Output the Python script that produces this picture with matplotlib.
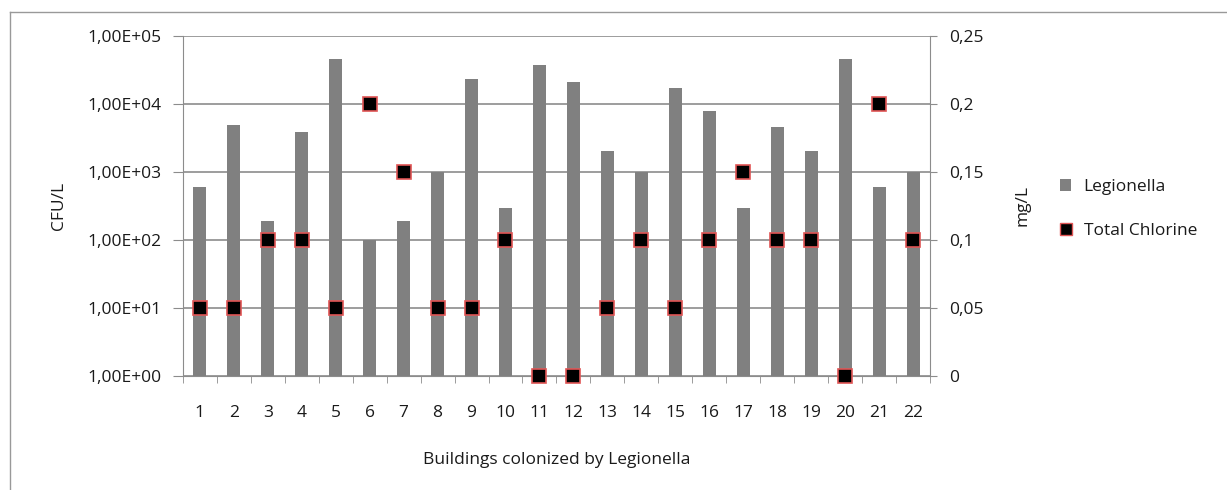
import matplotlib.pyplot as plt
from matplotlib.lines import Line2D
from matplotlib.patches import Patch
from matplotlib.ticker import FixedLocator, NullLocator

buildings = list(range(1, 23))
legionella = [600, 4800, 190, 3800, 46000, 100, 190, 1000, 23000, 290, 37000,
              21000, 2000, 1000, 17000, 7700, 290, 4500, 2000, 46000, 600, 1000]
chlorine = [0.05, 0.05, 0.1, 0.1, 0.05, 0.2, 0.15, 0.05, 0.05, 0.1, 0.0,
            0.0, 0.05, 0.1, 0.05, 0.1, 0.15, 0.1, 0.1, 0.0, 0.2, 0.1]
left_ticks = [1, 10, 100, 1000, 10000, 100000]
left_labels = ["1,00E+00", "1,00E+01", "1,00E+02", "1,00E+03", "1,00E+04", "1,00E+05"]
right_ticks = [0, 0.05, 0.1, 0.15, 0.2, 0.25]
right_labels = ["0", "0,05", "0,1", "0,15", "0,2", "0,25"]

plt.rcParams["font.family"] = ["Open Sans", "DejaVu Sans"]
fs = 12.5
grid_c = "#8c8c8c"
text_c = "#1a1a1a"

fig = plt.figure(figsize=(12.27, 4.90), dpi=100)
ax = fig.add_axes([0.149, 0.233, 0.609, 0.694])

ax.bar(buildings, legionella, width=0.38, color="#808080", bottom=1, zorder=2)
ax.set_yscale("log")
ax.set_ylim(1, 1e5)
ax.set_xlim(0.5, 22.5)
ax.yaxis.set_major_locator(FixedLocator(left_ticks))
ax.yaxis.set_minor_locator(NullLocator())
ax.set_yticklabels(left_labels, fontsize=fs, color=text_c)
ax.set_xticks(buildings)
ax.set_xticklabels([str(b) for b in buildings], fontsize=fs, color=text_c)
ax.tick_params(axis="x", length=0, pad=21)
ax.set_xticks([b + 0.5 for b in [0] + buildings], minor=True)
ax.tick_params(axis="x", which="minor", length=5, color=grid_c, direction="out")
ax.tick_params(axis="y", length=7, color=grid_c, direction="out", pad=8)
ax.grid(axis="y", color=grid_c, linewidth=1.2, zorder=0)
for s in ["top", "right"]:
    ax.spines[s].set_visible(False)
ax.spines["left"].set_color(grid_c)
ax.spines["bottom"].set_color(grid_c)
ax.set_ylabel("CFU/L", fontsize=fs, labelpad=15, color=text_c)
ax.set_xlabel("Buildings colonized by Legionella", fontsize=fs, labelpad=22,
              color=text_c)

ax2 = ax.twinx()
ax2.plot(buildings, chlorine, linestyle="none", marker="s", markersize=10,
         markerfacecolor="black", markeredgecolor="#e05555", markeredgewidth=1.2,
         zorder=3, clip_on=False)
ax2.set_ylim(0, 0.25)
ax2.set_yticks(right_ticks)
ax2.set_yticklabels(right_labels, fontsize=fs, color=text_c)
ax2.tick_params(axis="y", length=5, color=grid_c, direction="out", pad=9)
for s in ["top", "left", "bottom"]:
    ax2.spines[s].set_visible(False)
ax2.spines["right"].set_color(grid_c)
ax2.set_ylabel("mg/L", fontsize=fs, labelpad=22, color=text_c)

handles = [Patch(facecolor="#808080", edgecolor="none"),
           Line2D([], [], linestyle="none", marker="s", markersize=8,
                  markerfacecolor="black", markeredgecolor="#e05555")]
fig.legend(handles, ["Legionella", "Total Chlorine"], loc="upper left",
           bbox_to_anchor=(0.864, 0.634), frameon=False, fontsize=fs,
           borderpad=0, borderaxespad=0, handlelength=0.65, handleheight=0.65,
           handletextpad=0.7, labelspacing=1.6, labelcolor=text_c)

fig.add_artist(Line2D([10 / 1227, 10 / 1227], [0, 1 - 12 / 490],
                      transform=fig.transFigure, color="#999999", linewidth=1))
fig.add_artist(Line2D([10 / 1227, 1], [1 - 12 / 490, 1 - 12 / 490],
                      transform=fig.transFigure, color="#999999", linewidth=1))

fig.savefig("out.png", dpi=100)
